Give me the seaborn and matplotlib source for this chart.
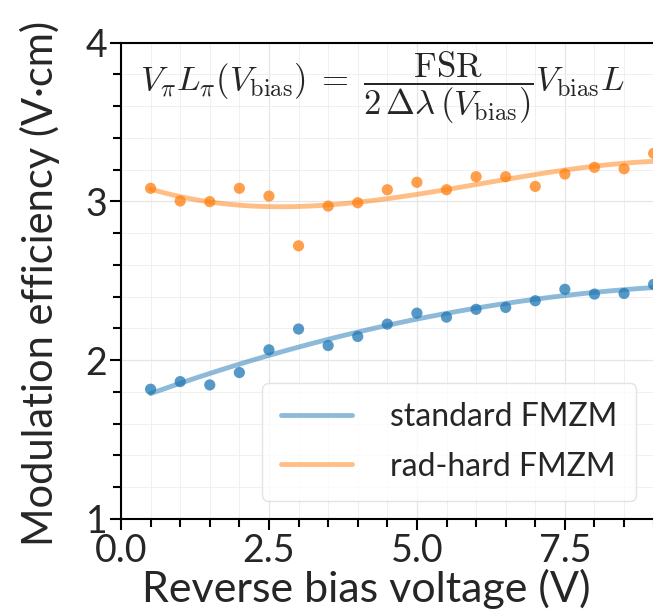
import numpy as np
import pandas as pd
import matplotlib
matplotlib.use("Agg")
import matplotlib.pyplot as plt
import seaborn as sns
from matplotlib.ticker import MultipleLocator

# reverse bias voltage (V)
v_bias = [0.5, 1.0, 1.5, 2.0, 2.5, 3.0, 3.5, 4.0, 4.5, 5.0, 5.5, 6.0, 6.5, 7.0, 7.5, 8.0, 8.5, 9.0]
# modulation efficiency (V.cm)
standard = [1.817, 1.865, 1.844, 1.922, 2.065, 2.196, 2.092, 2.149, 2.227, 2.296, 2.271, 2.320,
            2.332, 2.374, 2.446, 2.416, 2.420, 2.477]
radhard = [3.082, 3.002, 2.998, 3.082, 3.033, 2.720, 2.970, 2.991, 3.073, 3.120, 3.073, 3.155,
           3.155, 3.094, 3.172, 3.214, 3.205, 3.302]
labels = ['standard FMZM', 'rad-hard FMZM']

df = pd.DataFrame({'V': v_bias * 2,
                   'eff': standard + radhard,
                   'device': [labels[0]] * len(v_bias) + [labels[1]] * len(v_bias)})

sns.set_theme(style="whitegrid")
plt.rcParams['font.family'] = ['Lato', 'DejaVu Sans']
plt.rcParams['mathtext.fontset'] = 'cm'

fig = plt.figure(figsize=(6.53, 6.16), dpi=100)
ax = fig.add_axes([0.1853, 0.1575, 0.861, 0.7735])

colors = ['tab:blue', 'tab:orange']
orders = [2, 3]
for lab, c, o in zip(labels, colors, orders):
    sub = df[df['device'] == lab]
    sns.regplot(data=sub, x='V', y='eff', order=o, ci=None, scatter=False, ax=ax,
                label=lab, line_kws=dict(color=c, lw=3.5, alpha=0.5))
    sns.scatterplot(data=sub, x='V', y='eff', color=c, s=65, alpha=0.75,
                    edgecolor='none', ax=ax, zorder=3)

ax.set_xlim(0, 9.5)
ax.set_ylim(1, 4)
ax.xaxis.set_major_locator(MultipleLocator(2.5))
ax.xaxis.set_minor_locator(MultipleLocator(0.5))
ax.yaxis.set_major_locator(MultipleLocator(1))
ax.yaxis.set_minor_locator(MultipleLocator(0.2))
ax.xaxis.set_major_formatter(matplotlib.ticker.FormatStrFormatter('%.1f'))

ax.grid(which='major', color='#e6e6e6', lw=0.9)
ax.grid(which='minor', color='#f0f0f0', lw=0.7)
for s in ax.spines.values():
    s.set_color('black')
    s.set_linewidth(1.5)
ax.tick_params(which='major', direction='out', length=8, width=1.5, color='black',
               labelsize=27, pad=2, bottom=True, left=True)
ax.tick_params(which='minor', direction='out', length=6, width=1.5, color='black',
               bottom=True, left=True)

ax.set_xlabel('Reverse bias voltage (V)', fontsize=31)
ax.xaxis.set_label_coords(0.436, -0.105)
ax.set_ylabel('Modulation efficiency (V·cm)', fontsize=30)
ax.yaxis.set_label_coords(-0.108, 0.495)

ax.text(0.464, 0.905,
        r'$V_\pi L_\pi(V_\mathrm{bias})\;=\;\dfrac{\mathrm{FSR}}{2\,\Delta\lambda\,(V_\mathrm{bias})}V_\mathrm{bias}L$',
        transform=ax.transAxes, ha='center', va='center', fontsize=25)

leg = ax.legend(loc='upper left', bbox_to_anchor=(0.251, 0.285), fontsize=23,
                handlelength=2.2, handletextpad=1.2, labelspacing=0.6,
                frameon=True, borderpad=0.6, borderaxespad=0)
leg.get_frame().set_edgecolor('#dddddd')
for h in leg.get_lines():
    h.set_linewidth(3.5)

fig.savefig('out.png', dpi=100)
